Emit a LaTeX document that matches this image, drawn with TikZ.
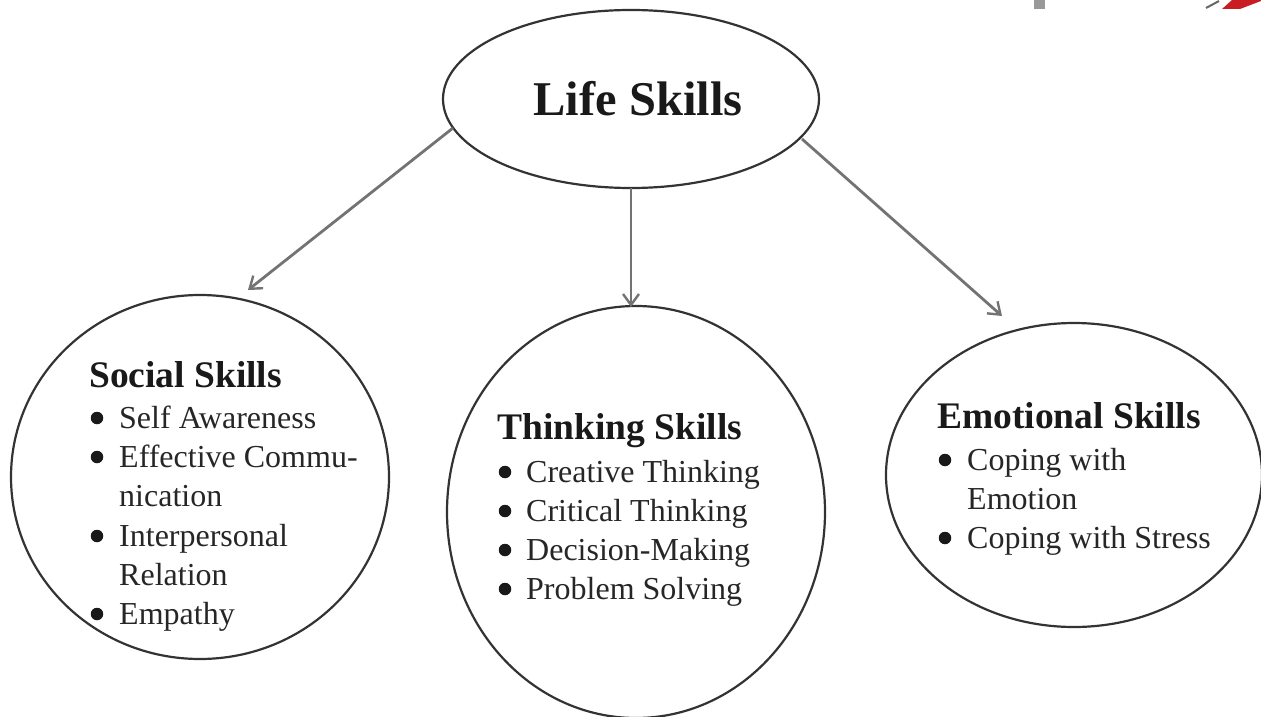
\documentclass[tikz,border=0pt]{standalone}
\usepackage{fontspec}
\setmainfont{Liberation Serif}
\usepackage{tikz}
\usetikzlibrary{shapes.geometric,arrows.meta}
\definecolor{penred}{RGB}{200,30,35}
\tikzset{
	blob/.style={draw=black!80, line width=2.2pt, ellipse, inner sep=0pt},
	link/.style={draw=black!55, line width=2.8pt, -{Straight Barb[length=11pt,width=16pt,line width=2.4pt]}},
	skillhead/.style={anchor=base west, font=\bfseries\fontsize{37.5}{42}\selectfont, text=black!90, inner sep=0pt},
	skillitem/.style={anchor=base west, font=\fontsize{32}{36}\selectfont, text=black!85, inner sep=0pt},
	skilldot/.style={circle, fill=black!90, inner sep=0pt, minimum size=12.5pt},
}
\begin{document}
\begin{tikzpicture}[x=1pt,y=-1pt]
	\useasboundingbox (0,0) rectangle (1261,717);
	% bits at the top edge
	\fill[black!40] (1034,0) rectangle (1045,9);
	\fill[penred] (1222,9) -- (1232,0) -- (1261,0) -- (1261,1) -- (1240,9) -- cycle;
	\draw[black!60, line width=2pt] (1206,8) -- (1219,1);
	% ellipses
	\node[blob, minimum width=376pt, minimum height=178pt] (life) at (631,99) {};
	\node[font=\bfseries\fontsize{48.5}{54}\selectfont, text=black!90, inner sep=0pt] (lifetext) at (638,99) {Life Skills};
	\node[blob, minimum width=378pt, minimum height=364pt] (social) at (200,477) {};
	\node[blob, minimum width=378pt, minimum height=412pt] (thinking) at (636,512) {};
	\node[blob, minimum width=376pt, minimum height=304pt] (emotional) at (1074,475) {};
	% arrows
	\coordinate (socialtip) at (248,290);
	\coordinate (thinkingtip) at (631,307);
	\coordinate (emotionaltip) at (1002,316);
	\coordinate (lifesw) at (453,128);
	\coordinate (lifes) at (631,188);
	\coordinate (lifese) at (802,139);
	\draw[link] (lifesw) -- (socialtip);
	\draw[link] (lifes) -- (thinkingtip);
	\draw[link] (lifese) -- (emotionaltip);
	% social
	\node[skillhead] (socialhead) at (89,387) {Social Skills};
	\foreach \name/\txt/\y in {sa/Self Awareness/428, ec/Effective Commu-/467, ni/nication/506, ip/Interpersonal/546, re/Relation/585, em/Empathy/624}
		\node[skillitem] (\name) at (119,\y) {\txt};
	\foreach \name/\y in {dsa/418, dec/457, dip/536, dem/614}
		\node[skilldot] (\name) at (97,\y) {};
	% thinking
	\node[skillhead] (thinkinghead) at (497,439) {Thinking Skills};
	\foreach \name/\txt/\y in {ct/Creative Thinking/482, cr/Critical Thinking/521, dm/Decision-Making/560, ps/Problem Solving/599}
		\node[skillitem] (\name) at (526,\y) {\txt};
	\foreach \name/\y in {dct/472, dcr/511, ddm/550, dps/589}
		\node[skilldot] (\name) at (505,\y) {};
	% emotional
	\node[skillhead] (emotionalhead) at (937,428) {Emotional Skills};
	\foreach \name/\txt/\y in {cw/Coping with/470, eo/Emotion/509, cs/Coping with Stress/548}
		\node[skillitem] (\name) at (967,\y) {\txt};
	\foreach \name/\y in {dcw/460, dcs/538}
		\node[skilldot] (\name) at (945,\y) {};
\end{tikzpicture}
\end{document}
